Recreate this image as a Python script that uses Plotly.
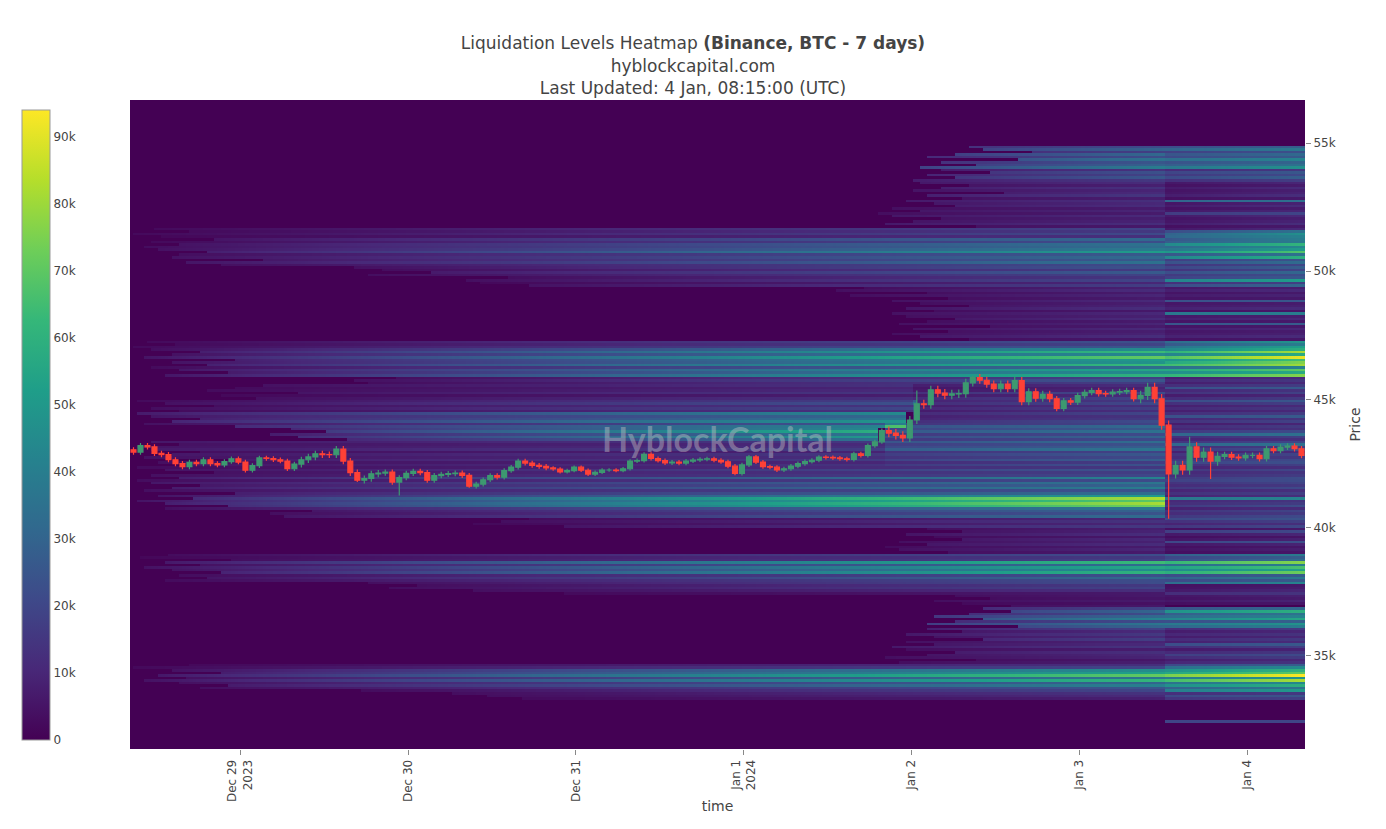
import numpy as np
import pandas as pd
import plotly.graph_objects as go

START = pd.Timestamp("2023-12-28 08:15")
N_HOURS = 168

# ---------------- price candles (hourly) ----------------
first_open = 43040
hourly_close = [
    42950, 43200, 43150, 42900, 42850, 42650, 42500, 42380, 42550, 42500,
    42650, 42500, 42450, 42580, 42690, 42560, 42240, 42420, 42720, 42700,
    42650, 42600, 42300, 42480, 42650, 42760, 42880, 42850, 42845, 43070,
    42600, 42150, 41850, 41920, 42100, 42130, 42170, 41780, 41950, 42120,
    42200, 42150, 41850, 42030, 42080, 42110, 42130, 42040, 41620, 41700,
    41870, 42030, 41970, 42230, 42360, 42600, 42520, 42430, 42390, 42330,
    42290, 42180, 42230, 42360, 42240, 42090, 42160, 42250, 42250, 42230,
    42300, 42600, 42620, 42860, 42700, 42620, 42530, 42560, 42520, 42600,
    42640, 42670, 42690, 42630, 42570, 42400, 42120, 42450, 42760, 42560,
    42380, 42360, 42250, 42300, 42400, 42500, 42580, 42630, 42750, 42740,
    42720, 42690, 42660, 42880, 42820, 43200, 43350, 43790, 43690, 43600,
    43500, 44200, 44830, 44800, 45380, 45250, 45170, 45220, 45230, 45650,
    45850, 45750, 45600, 45420, 45600, 45420, 45740, 44920, 45300, 45050,
    45200, 45030, 44650, 44950, 44900, 45150, 45280, 45350, 45230, 45220,
    45290, 45310, 45350, 45030, 45160, 45470, 45030, 44000, 42100, 42430,
    42250, 43150, 42750, 42950, 42600, 42780, 42850, 42750, 42720, 42820,
    42820, 42690, 43080, 43010, 43140, 43180, 43080, 42820,
]
# typical wick length per 12-hour block (upper / lower)
wick_up_12h = [100, 90, 120, 100, 90, 70, 80, 80, 80, 160, 140, 110, 180, 110]
wick_down_12h = [100, 90, 130, 100, 90, 70, 80, 80, 80, 160, 140, 110, 180, 110]
# isolated long wicks
wick_candle = [16, 32, 38, 48, 86, 112, 120, 148, 151, 154]
wick_price = [42150, 41780, 41260, 41560, 42050, 45350, 45920, 40350, 43550, 41900]

# ---------------- liquidation levels (price_lo, price_hi, hour_from, hour_to, value_from, value_to) -------------
CRASH = 148.2
band_51k = [
    (51300, 51700, 0.5, CRASH, 2000, 18000),
    (51000, 51300, 1.0, CRASH, 3000, 32000),
    (50600, 51000, 2.0, CRASH, 4000, 42000),
    (50200, 50600, 5.0, CRASH, 4000, 30000),
    (49800, 50200, 32, CRASH, 4000, 24000),
    (49400, 49800, 48, CRASH, 3000, 16000),
    (49000, 49400, 100, CRASH, 3000, 10000),
]
band_47k = [
    (47000, 47300, 0.5, CRASH, 2000, 22000),
    (46500, 47000, 1.0, CRASH, 4000, 64000),
    (45900, 46500, 3.0, CRASH, 4000, 52000),
    (45600, 45900, 32, CRASH, 4000, 25000),
    (45000, 45600, 10, 112, 3000, 12000),
]
band_44k = [
    (44500, 45000, 1, 112.5, 3000, 20000),
    (43900, 44500, 1, 111, 6000, 40000),
    (43400, 43900, 20, 107, 10000, 50000),
    (42400, 43400, 1, 108, 5000, 14000),
]
# zone the price walked through on Jan 2 (no ragged start)
band_near_price = [
    (45300, 45600, 112, CRASH, 7000, 11000),
    (44100, 45300, 112, CRASH, 10000, 18000),
    (42900, 44100, 108, CRASH, 22000, 30000),
    (42400, 42900, 108, CRASH, 16000, 24000),
]
band_41k = [
    (42000, 42400, 1, CRASH, 4000, 22000),
    (41300, 42000, 1, CRASH, 5000, 34000),
    (41100, 41300, 1, CRASH, 6000, 74000),
    (40900, 41100, 1, CRASH, 6000, 88000),
    (40700, 40900, 3, CRASH, 5000, 60000),
    (40400, 40700, 20, CRASH, 4000, 28000),
    (40000, 40400, 48, CRASH, 3000, 14000),
    (39600, 40000, 111, CRASH, 4000, 10000),
    (39000, 39600, 108, CRASH, 4000, 10000),
]
band_38k = [
    (38700, 39000, 0.5, CRASH, 2000, 20000),
    (38200, 38700, 2, CRASH, 4000, 52000),
    (37900, 38200, 5, CRASH, 4000, 32000),
    (37600, 37900, 32, CRASH, 3000, 20000),
    (37400, 37600, 48, CRASH, 3000, 10000),
    (36900, 37400, 115, CRASH, 3000, 6000),
    (36600, 36900, 120, CRASH, 15000, 28000),
    (36100, 36600, 113, CRASH, 15000, 35000),
    (35600, 36100, 111, CRASH, 6000, 16000),
    (35000, 35600, 109, CRASH, 5000, 12000),
]
band_34k = [
    (34700, 35000, 107, CRASH, 3000, 8000),
    (34500, 34700, 0.5, CRASH, 2000, 18000),
    (34000, 34500, 2, CRASH, 4000, 58000),
    (33700, 34000, 5, CRASH, 4000, 35000),
    (33500, 33700, 32, CRASH, 3000, 20000),
    (33300, 33500, 48, CRASH, 3000, 10000),
]
band_54k = [
    (54600, 54900, 120, CRASH, 15000, 25000),
    (54000, 54600, 113, CRASH, 15000, 32000),
    (53500, 54000, 112, CRASH, 10000, 22000),
    (52600, 53500, 111, CRASH, 6000, 12000),
    (51700, 52600, 107, CRASH, 5000, 10000),
    (47300, 49000, 109, CRASH, 4000, 10000),
]
after_crash = [
    (54500, 54900, CRASH, 168, 25000, 32000),
    (54000, 54500, CRASH, 168, 30000, 38000),
    (53500, 54000, CRASH, 168, 18000, 24000),
    (51600, 53500, CRASH, 168, 6000, 10000),
    (51200, 51600, CRASH, 168, 25000, 40000),
    (50500, 51200, CRASH, 168, 40000, 55000),
    (49400, 50500, CRASH, 168, 20000, 28000),
    (47300, 49400, CRASH, 168, 7000, 9000),
    (47000, 47300, CRASH, 168, 30000, 45000),
    (46400, 47000, CRASH, 168, 60000, 82000),
    (45900, 46400, CRASH, 168, 52000, 65000),
    (43800, 45900, CRASH, 168, 11000, 15000),
    (40000, 43800, CRASH, 168, 13000, 18000),
    (39000, 40000, CRASH, 168, 5000, 8000),
    (38700, 39000, CRASH, 168, 25000, 35000),
    (38200, 38700, CRASH, 168, 50000, 62000),
    (37800, 38200, CRASH, 168, 30000, 38000),
    (37000, 37800, CRASH, 168, 5000, 8000),
    (36100, 36900, CRASH, 168, 35000, 45000),
    (34700, 36100, CRASH, 168, 10000, 14000),
    (34500, 34700, CRASH, 168, 30000, 40000),
    (34000, 34500, CRASH, 168, 60000, 76000),
    (33600, 34000, CRASH, 168, 40000, 50000),
    (33300, 33600, CRASH, 168, 18000, 22000),
]
# single thin lines after the crash: (price, value)
after_crash_lines = [
    (52750, 22000), (52250, 18000), (51350, 18000), (49650, 14000),
    (48350, 28000), (47950, 18000), (48850, 14000), (45450, 18000),
    (44950, 14000), (44350, 18000), (43650, 30000), (43250, 26000),
    (42550, 14000), (41850, 16000), (41150, 20000), (40350, 16000),
    (39850, 14000), (39450, 18000), (37450, 14000), (36750, 8000),
    (35450, 14000), (35050, 10000), (32450, 28000),
]
row_texture = [1.0, 0.72, 1.18, 0.88, 1.08, 0.64, 1.24, 0.93, 0.8, 1.12, 0.7]
row_start_delay_h = [0, 6, 2, 11, 4, 0, 8, 3, 14, 1, 5, 9, 2]

# ---------------- build heatmap grid ----------------
price_rows = np.arange(31450, 56700, 100)
col_hours = (np.arange(N_HOURS * 2) + 0.5) * 0.5
z = np.zeros((len(price_rows), len(col_hours)))
delay = np.array([row_start_delay_h[i % len(row_start_delay_h)] for i in range(len(price_rows))], float)


def add_segments(seg_list, ragged):
    for lo, hi, t0, t1, v0, v1 in seg_list:
        frac = np.clip((col_hours - t0) / (t1 - t0), 0, 1)
        vals = v0 + (v1 - v0) * frac
        for r in np.where((price_rows >= lo) & (price_rows < hi))[0]:
            start = t0 + (delay[r] if ragged else 0.0)
            cmask = (col_hours >= start) & (col_hours < t1)
            z[r, cmask] += vals[cmask]


add_segments(band_51k + band_47k + band_44k + band_41k + band_38k + band_34k + band_54k, True)
add_segments(band_near_price + after_crash, False)
add_segments([(p - 50, p + 50, CRASH, 168, v, v) for p, v in after_crash_lines], False)

tex = np.array([row_texture[i % len(row_texture)] for i in range(len(price_rows))])
z = np.round(z * tex[:, None])

col_times = [START + pd.Timedelta(hours=float(h)) for h in col_hours]

# candles
opens = [first_open] + hourly_close[:-1]
highs = [max(o, c) + wick_up_12h[k // 12] for k, (o, c) in enumerate(zip(opens, hourly_close))]
lows = [min(o, c) - wick_down_12h[k // 12] for k, (o, c) in enumerate(zip(opens, hourly_close))]
for k, p in zip(wick_candle, wick_price):
    if p > max(opens[k], hourly_close[k]):
        highs[k] = p
    else:
        lows[k] = p
candle_times = [START + pd.Timedelta(minutes=60 * k + 30) for k in range(N_HOURS)]

FONT = "DejaVu Sans"
fig = go.Figure()
fig.add_trace(go.Heatmap(
    x=col_times, y=price_rows, z=z,
    colorscale="Viridis", zmin=0, zmax=94000,
    colorbar=dict(
        x=-0.0919, xanchor="left", xpad=0, y=0.4992, yanchor="middle", ypad=0,
        len=0.971, lenmode="fraction", thickness=28,
        outlinewidth=1, outlinecolor="#999",
        tickformat="~s", dtick=10000, tick0=0, ticks="",
        tickfont=dict(size=12, color="#444"),
    ),
    hoverinfo="skip",
))
fig.add_trace(go.Candlestick(
    x=candle_times, open=opens, high=highs, low=lows, close=hourly_close,
    increasing=dict(line=dict(color="#3D9970", width=1.2), fillcolor="#3D9970"),
    decreasing=dict(line=dict(color="#FF4136", width=1.2), fillcolor="#FF4136"),
    whiskerwidth=0, showlegend=False,
))

fig.add_annotation(
    text="<b>HyblockCapital</b>", x=0.5, y=0.479, xref="paper", yref="paper",
    showarrow=False, font=dict(family="Lato", size=34, color="rgba(200,200,200,0.42)"),
)

fig.update_layout(
    width=1370, height=813,
    margin=dict(l=122, r=73, t=92, b=72),
    paper_bgcolor="white", plot_bgcolor="#440154",
    font=dict(family=FONT, size=12, color="#444"),
    boxgap=0.0,
    title=dict(
        text="Liquidation Levels Heatmap <b>(Binance, BTC - 7 days)</b><br>hyblockcapital.com<br>Last Updated: 4 Jan, 08:15:00 (UTC)",
        x=0.5, xref="container", xanchor="center", y=0.949, yanchor="top",
        font=dict(family=FONT, size=17, color="#444"),
    ),
    showlegend=False,
    xaxis=dict(
        type="date", range=[START, START + pd.Timedelta(hours=N_HOURS)],
        tick0="2023-12-29", dtick=86400000, tickangle=-90,
        ticks="outside", ticklen=5, tickcolor="#888",
        showgrid=False, zeroline=False, rangeslider=dict(visible=False),
        automargin=False,
        title=dict(text="time", standoff=0),
    ),
    yaxis=dict(
        side="right", range=[31370, 56680], dtick=5000, tick0=35000,
        tickformat="~s", ticks="outside", ticklen=5, tickcolor="#888",
        showgrid=False, zeroline=False, automargin=False, title=dict(text="Price"),
    ),
)

fig.write_html("out.html")
